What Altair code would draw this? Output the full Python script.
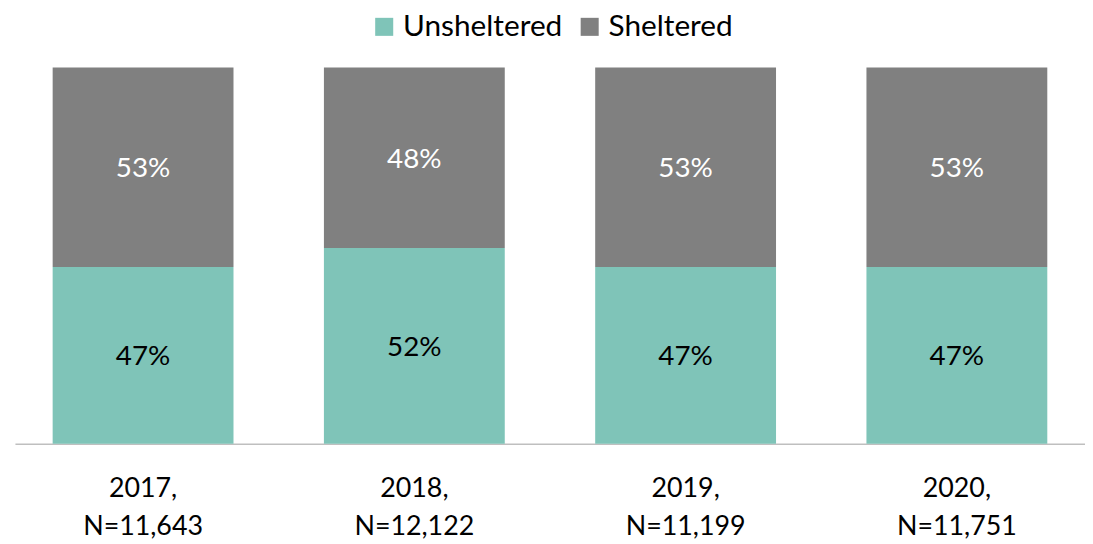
import altair as alt
import pandas as pd

years = ["2017,|N=11,643", "2018,|N=12,122", "2019,|N=11,199", "2020,|N=11,751"]
unsheltered = [47, 52, 47, 47]
sheltered = [53, 48, 53, 53]
series = ["Unsheltered", "Sheltered"]
colors = ["#7fc4b8", "#808080"]

rows = []
for i, y in enumerate(years):
    rows.append({"year": y, "group": "Unsheltered", "value": unsheltered[i], "ord": 0})
    rows.append({"year": y, "group": "Sheltered", "value": sheltered[i], "ord": 1})
df = pd.DataFrame(rows)

FONT = "Lato"

base = alt.Chart(df).transform_stack(
    stack="value", groupby=["year"], as_=["v0", "v1"],
    sort=[alt.SortField("ord", order="ascending")]
).transform_calculate(mid="(datum.v0 + datum.v1) / 2")

xscale = alt.Scale(paddingInner=1/3, paddingOuter=0.139)
xenc = alt.X(
    "year:N", sort=years, title=None, scale=xscale,
    axis=alt.Axis(
        labelExpr="split(datum.label, '|')", labelAngle=0, ticks=False,
        domainColor="#bfbfbf", domainWidth=1.5, labelFont=FONT, labelFontSize=27,
        labelColor="#000000", labelPadding=32, labelLineHeight=38, labelBaseline="top",
        labelLimit=400,
    ),
)
yscale = alt.Scale(domain=[0, 100])

bars = base.mark_bar().encode(
    x=xenc,
    y=alt.Y("v0:Q", scale=yscale, axis=None),
    y2="v1:Q",
    color=alt.Color(
        "group:N",
        scale=alt.Scale(domain=series, range=colors),
        legend=alt.Legend(
            title=None, orient="none", direction="horizontal", legendX=357, legendY=-56,
            symbolType="square", symbolSize=330, symbolStrokeWidth=0,
            labelFont=FONT, labelFontSize=30, labelColor="#000000", labelOffset=4,
            columnPadding=12, labelLimit=400,
        ),
    ),
)

labels = base.mark_text(font=FONT, fontSize=28, dy=2).encode(
    x=alt.X("year:N", sort=years),
    y=alt.Y("mid:Q", scale=yscale),
    text=alt.Text("label:N"),
    color=alt.condition(alt.datum.group == "Sheltered", alt.value("#ffffff"), alt.value("#000000")),
).transform_calculate(label="datum.value + '%'")

chart = alt.layer(bars, labels).properties(
    width=1078, height=379,
    autosize=alt.AutoSizeParams(type="none"),
    padding={"left": 7, "top": 58, "right": 0, "bottom": 96},
).configure_view(stroke=None)

chart.save("out.html", embed_options={"renderer": "svg", "actions": False})
